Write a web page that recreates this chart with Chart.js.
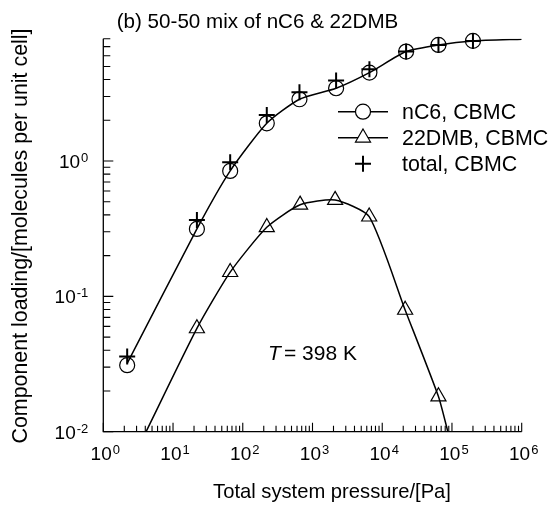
<!DOCTYPE html>
<html><head><meta charset="utf-8">
<script src="https://cdn.jsdelivr.net/npm/chart.js@4/dist/chart.umd.min.js"></script>
<style>html,body{margin:0;padding:0;background:#fff}#wrap{width:551px;height:507px;position:relative}</style>
</head><body><div id="wrap"><canvas id="c" width="551" height="507"></canvas></div>
<script>
// ---- data ----
const titleText = '(b) 50-50 mix of nC6 & 22DMB';
const xTitle = 'Total system pressure/[Pa]';
const yTitle = 'Component loading/[molecules per unit cell]';
const legendLabels = ['nC6, CBMC', '22DMB, CBMC', 'total, CBMC'];
const xTickExponents = [0, 1, 2, 3, 4, 5, 6];
const yTickExponents = [-2, -1, 0];

const pressureNC6 = [2.2, 22, 66, 221, 650, 2180, 6550, 22000, 64000, 200000];
const loadingNC6 = [0.031, 0.315, 0.845, 1.90, 2.86, 3.45, 4.50, 6.44, 7.21, 7.72];
const loadingTotal = [0.036, 0.367, 0.98, 2.19, 3.22, 3.93, 4.77, 6.44, 7.21, 7.72];
const pressureDMB = [22, 66, 221, 664, 2110, 6500, 21300, 64000];
const loadingDMB = [0.058, 0.151, 0.324, 0.475, 0.515, 0.388, 0.0794, 0.0182];

// model curves
const curvePressureNC6 = [2.2, 22, 66, 221, 650, 2180, 6550, 22000, 64000, 200000, 1000000];
const curveLoadingNC6 = [0.032, 0.315, 0.845, 1.90, 2.86, 3.45, 4.50, 6.44, 7.21, 7.72, 7.95];
const curvePressureDMB = [4.1, 22, 66, 221, 664, 2110, 6500, 21300, 64000, 87300];
const curveLoadingDMB = [0.01, 0.058, 0.151, 0.324, 0.475, 0.515, 0.388, 0.0794, 0.0182, 0.01];

const toXY = (xs, ys) => xs.map((x, i) => ({x: x, y: ys[i]}));
const FONT = '"Liberation Sans", Arial, Helvetica, sans-serif';

function powLabel(ctx, exp, x, y, align) {
  const base = '10', sup = String(exp);
  ctx.font = '19px ' + FONT;
  const wb = ctx.measureText(base).width;
  ctx.font = '13px ' + FONT;
  const ws = ctx.measureText(sup).width;
  const total = wb + ws + 1;
  let x0 = align === 'right' ? x - total : x - total / 2;
  ctx.textAlign = 'left';
  ctx.textBaseline = 'alphabetic';
  ctx.font = '19px ' + FONT;
  ctx.fillText(base, x0, y);
  ctx.font = '13px ' + FONT;
  ctx.fillText(sup, x0 + wb + 1, y - 6);
}

const decor = {
  id: 'decor',
  afterDraw(chart) {
    const ctx = chart.ctx, xs = chart.scales.x, ys = chart.scales.y;
    const a = chart.chartArea;
    ctx.save();
    ctx.strokeStyle = '#000';
    ctx.fillStyle = '#000';
    ctx.lineWidth = 1.3;
    ctx.beginPath();
    ctx.moveTo(a.left, a.top); ctx.lineTo(a.left, a.bottom); ctx.lineTo(a.right, a.bottom);
    ctx.stroke();
    ctx.lineWidth = 1.1;
    ctx.beginPath();
    for (let e = 0; e <= 6; e++) {
      for (let m = 1; m <= 9; m++) {
        const v = m * Math.pow(10, e);
        if (v > xs.max * 1.0001) break;
        const px = xs.getPixelForValue(v);
        const len = m === 1 ? 9 : 6;
        ctx.moveTo(px, a.bottom); ctx.lineTo(px, a.bottom - len);
      }
    }
    for (let e = -2; e <= 0; e++) {
      for (let m = 1; m <= 9; m++) {
        const v = m * Math.pow(10, e);
        if (v > ys.max * 1.0001) break;
        const py = ys.getPixelForValue(v);
        const len = m === 1 ? 10 : 7;
        ctx.moveTo(a.left, py); ctx.lineTo(a.left + len, py);
      }
    }
    ctx.stroke();
    xTickExponents.forEach(e => powLabel(ctx, e, xs.getPixelForValue(Math.pow(10, e)) + 2, a.bottom + 28, 'center'));
    yTickExponents.forEach(e => powLabel(ctx, e, a.left - 15, ys.getPixelForValue(Math.pow(10, e)) + 7, 'right'));
    ctx.textAlign = 'center';
    ctx.textBaseline = 'alphabetic';
    ctx.font = '20.6px ' + FONT;
    ctx.fillText(titleText, 257.5, 28);
    ctx.font = '20.2px ' + FONT;
    ctx.fillText(xTitle, 332, 498);
    ctx.save();
    ctx.translate(27, 236);
    ctx.rotate(-Math.PI / 2);
    ctx.font = '21.4px ' + FONT;
    ctx.fillText(yTitle, 0, 0);
    ctx.restore();
    ctx.textAlign = 'left';
    ctx.font = 'italic 21px ' + FONT;
    ctx.fillText('T', 268, 360);
    ctx.font = '21px ' + FONT;
    ctx.fillText('= 398 K', 284, 360);
    const rows = [111.7, 137.7, 163.7];
    const lx0 = 338, lx1 = 388, mx = 363, tx = 402;
    ctx.lineWidth = 1.5;
    for (let i = 0; i < 2; i++) {
      ctx.beginPath(); ctx.moveTo(lx0, rows[i]); ctx.lineTo(lx1, rows[i]); ctx.stroke();
    }
    ctx.lineWidth = 1.2;
    ctx.beginPath(); ctx.arc(mx, rows[0], 7.5, 0, Math.PI * 2); ctx.fillStyle = '#fff'; ctx.fill(); ctx.stroke();
    const r = 8.7, cy = rows[1];
    ctx.beginPath();
    ctx.moveTo(mx, cy - r);
    ctx.lineTo(mx + Math.sin(2 * Math.PI / 3) * r, cy - Math.cos(2 * Math.PI / 3) * r);
    ctx.lineTo(mx + Math.sin(4 * Math.PI / 3) * r, cy - Math.cos(4 * Math.PI / 3) * r);
    ctx.closePath(); ctx.fill(); ctx.stroke();
    ctx.lineWidth = 2;
    ctx.beginPath();
    ctx.moveTo(mx - 8, rows[2]); ctx.lineTo(mx + 8, rows[2]);
    ctx.moveTo(mx, rows[2] - 8); ctx.lineTo(mx, rows[2] + 8);
    ctx.stroke();
    ctx.fillStyle = '#000';
    ctx.font = '21.4px ' + FONT;
    ctx.textBaseline = 'middle';
    legendLabels.forEach((t, i) => ctx.fillText(t, tx, rows[i] + 1));
    ctx.restore();
  }
};

new Chart(document.getElementById('c'), {
  type: 'line',
  data: {
    datasets: [
      { data: toXY(curvePressureNC6, curveLoadingNC6), borderColor: '#000', borderWidth: 1.5, pointRadius: 0, tension: 0.2, fill: false },
      { data: toXY(curvePressureDMB, curveLoadingDMB), borderColor: '#000', borderWidth: 1.5, pointRadius: 0, tension: 0.2, fill: false },
      { data: toXY(pressureNC6, loadingNC6), showLine: false, clip: false, pointStyle: 'circle', pointRadius: 7.5, pointBorderWidth: 1.2, pointBorderColor: '#000', pointBackgroundColor: 'rgba(0,0,0,0)' },
      { data: toXY(pressureDMB, loadingDMB), showLine: false, clip: false, pointStyle: 'triangle', pointRadius: 8.7, pointBorderWidth: 1.2, pointBorderColor: '#000', pointBackgroundColor: 'rgba(0,0,0,0)' },
      { data: toXY(pressureNC6, loadingTotal), showLine: false, clip: false, pointStyle: 'cross', pointRadius: 8, pointBorderWidth: 2, pointBorderColor: '#000', pointBackgroundColor: '#000' }
    ]
  },
  options: {
    responsive: false,
    animation: false,
    devicePixelRatio: 1,
    layout: { padding: { left: 103.3, right: 29.3, top: 38.8, bottom: 75.3 } },
    plugins: { legend: { display: false }, tooltip: { enabled: false }, title: { display: false } },
    scales: {
      x: { type: 'logarithmic', min: 1, max: 1e6, display: false },
      y: { type: 'logarithmic', min: 0.01, max: 8, display: false }
    }
  },
  plugins: [decor]
});
</script></body></html>
